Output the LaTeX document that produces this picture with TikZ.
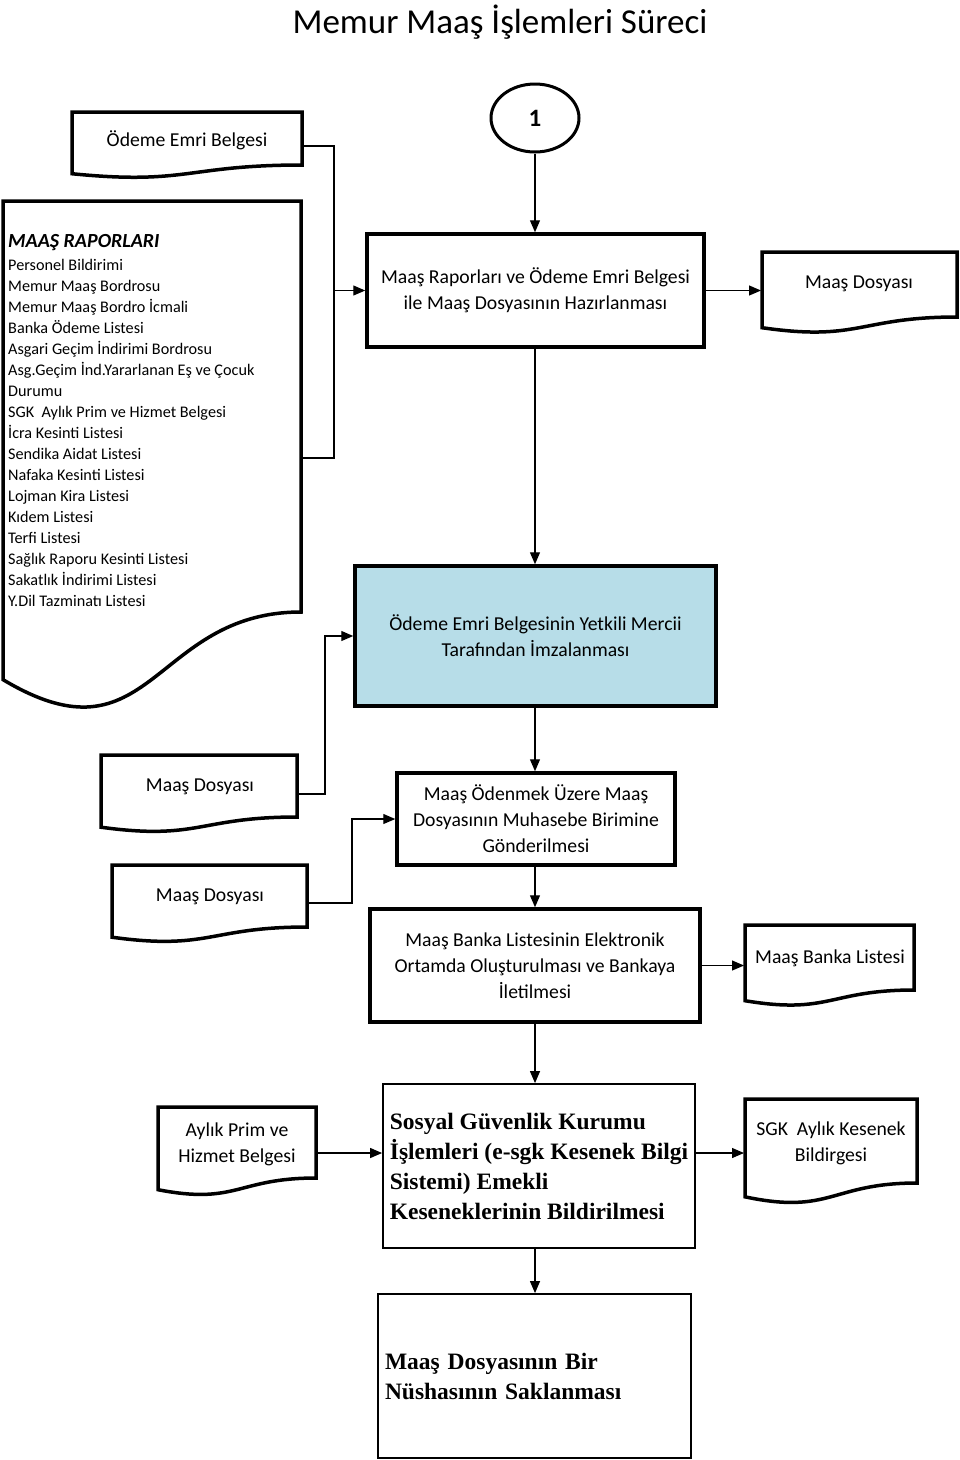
\documentclass[tikz,border=0pt]{standalone}
\usepackage{fontspec}
\setmainfont{Carlito}
\newfontfamily\tnr{Liberation Serif}
\usetikzlibrary{arrows.meta,shapes.geometric}
\definecolor{lightblue}{RGB}{183,221,232}
\newcommand\docshape[4]{%
  \pgfmathsetmacro\DocH{(#4-#2)/0.802}%
  \pgfmathsetmacro\DocYl{#2+0.934*\DocH}%
  \pgfmathsetmacro\DocYc{#2+1.108*\DocH}%
  \pgfmathsetmacro\DocXm{(#1+#3)/2}%
  \draw[docline] (#1,#2) -- (#3,#2) -- (#3,#4) .. controls (\DocXm,#4) and (\DocXm,\DocYc) .. (#1,\DocYl) -- cycle;%
}
\begin{document}
\begin{tikzpicture}[x=1pt,y=-1pt,
  docline/.style={line width=3.5pt, line join=miter},
  thickbox/.style={draw, line width=3.5pt, rectangle, inner sep=4pt, align=center, font=\fontsize{19.7}{26}\selectfont},
  thinbox/.style={draw, line width=1.8pt, rectangle, align=left, font=\tnr\bfseries\fontsize{23.5}{30}\selectfont},
  doctext/.style={align=center, font=\fontsize{19.7}{26}\selectfont},
  listtext/.style={anchor=base west, inner sep=0pt, font=\fontsize{16.2}{21}\selectfont},
  conn/.style={line width=1.2pt},
  arr/.style={line width=1.2pt, -{Triangle[length=12pt,width=10pt]}}]
\useasboundingbox (0,0) rectangle (960,1460);

% title
\node[font=\fontsize{35}{40}\selectfont] (title) at (500,22) {Memur Maaş İşlemleri Süreci};

% start circle
\node[draw, ellipse, line width=3pt, minimum width=88pt, minimum height=68pt, font=\bfseries\fontsize{25}{28}\selectfont] (one) at (535,118) {1};

% documents
\docshape{72}{112}{302}{165}
\node[doctext] (ode) at (187,140) {Ödeme Emri Belgesi};

\docshape{3}{201}{301}{612}
\node[anchor=base west, inner sep=0pt, font=\bfseries\itshape\fontsize{20}{24}\selectfont] (mrhead) at (8,247) {MAAŞ RAPORLARI};
\foreach \t [count=\i] in {Personel Bildirimi, Memur Maaş Bordrosu, Memur Maaş Bordro İcmali, Banka Ödeme Listesi, Asgari Geçim İndirimi Bordrosu, Asg.Geçim İnd.Yararlanan Eş ve Çocuk, Durumu, SGK\ \ Aylık Prim ve Hizmet Belgesi, İcra Kesinti Listesi, Sendika Aidat Listesi, Nafaka Kesinti Listesi, Lojman Kira Listesi, Kıdem Listesi, Terfi Listesi, Sağlık Raporu Kesinti Listesi, Sakatlık İndirimi Listesi, Y.Dil Tazminatı Listesi}
  \node[listtext] (l\i) at (8,249+21*\i) {\t};

\docshape{762}{252}{957}{317}
\node[doctext] (md1) at (859,284) {Maaş Dosyası};

\docshape{101}{755}{297}{817}
\node[doctext] (md2) at (200,787) {Maaş Dosyası};

\docshape{112}{865}{307}{927}
\node[doctext] (md3) at (210,897) {Maaş Dosyası};

\docshape{745}{925}{914}{990}
\node[doctext] (mbl) at (830,958) {Maaş Banka Listesi};

\docshape{158}{1107}{316}{1178}
\node[doctext] (apb) at (237,1144) {Aylık Prim ve\\Hizmet Belgesi};

\docshape{745}{1099}{917}{1183}
\node[doctext] (sgkb) at (831,1143) {SGK\ \ Aylık Kesenek\\Bildirgesi};

% process boxes
\node[thickbox, minimum width=337pt, minimum height=113pt] (b1) at (535.5,290.5) {Maaş Raporları ve Ödeme Emri Belgesi\\ile Maaş Dosyasının Hazırlanması};
\node[thickbox, fill=lightblue, minimum width=361pt, minimum height=140pt] (b2) at (535.5,636) {Ödeme Emri Belgesinin Yetkili Mercii\\Tarafından İmzalanması};
\node[thickbox, minimum width=278pt, minimum height=92pt] (b3) at (536,819) {Maaş Ödenmek Üzere Maaş\\Dosyasının Muhasebe Birimine\\Gönderilmesi};
\node[thickbox, minimum width=330pt, minimum height=113pt] (b4) at (535,965.5) {Maaş Banka Listesinin Elektronik\\Ortamda Oluşturulması ve Bankaya\\İletilmesi};
\node[thinbox, inner xsep=4pt, minimum width=312pt, minimum height=164pt] (b5) at (539,1166) {Sosyal Güvenlik Kurumu\\İşlemleri (e-sgk Kesenek Bilgi\\Sistemi) Emekli\\Keseneklerinin Bildirilmesi};
\node[thinbox, text width=299pt, inner xsep=7pt, minimum height=164pt] (b6) at (534.5,1376) {Maaş Dosyasının Bir\\Nüshasının Saklanması};

% connector points
\coordinate (odeR) at (302,146);
\coordinate (mrR) at (301,458);
\coordinate (j1) at (334,290.5);
\coordinate (md1L) at (761,290.5);
\coordinate (md2R) at (297,794);
\coordinate (j2) at (325,636);
\coordinate (md3R) at (307,903);
\coordinate (j3) at (352,819);
\coordinate (mblL) at (744,965.5);
\coordinate (apbR) at (316,1153);
\coordinate (sgkbL) at (744,1153);

% connectors
\draw[arr] (one.south) -- (one.south |- b1.north);
\draw[arr] (odeR) -| (j1) -- (b1.west);
\draw[conn] (mrR) -| (j1);
\draw[arr] (b1.east) -- (md1L);
\draw[arr] (b1.south -| one.south) -- (b2.north -| one.south);
\draw[arr] (md2R) -| (j2) -- (b2.west);
\draw[arr] (b2.south -| one.south) -- (b3.north -| one.south);
\draw[arr] (md3R) -| (j3) -- (b3.west);
\draw[arr] (b3.south -| one.south) -- (b4.north -| one.south);
\draw[arr] (b4.east) -- (mblL);
\draw[arr] (b4.south -| one.south) -- (b5.north -| one.south);
\draw[arr] (apbR) -- (apbR -| b5.west);
\draw[arr] (apbR -| b5.east) -- (sgkbL);
\draw[arr] (b5.south -| one.south) -- (b6.north -| one.south);
\end{tikzpicture}
\end{document}
